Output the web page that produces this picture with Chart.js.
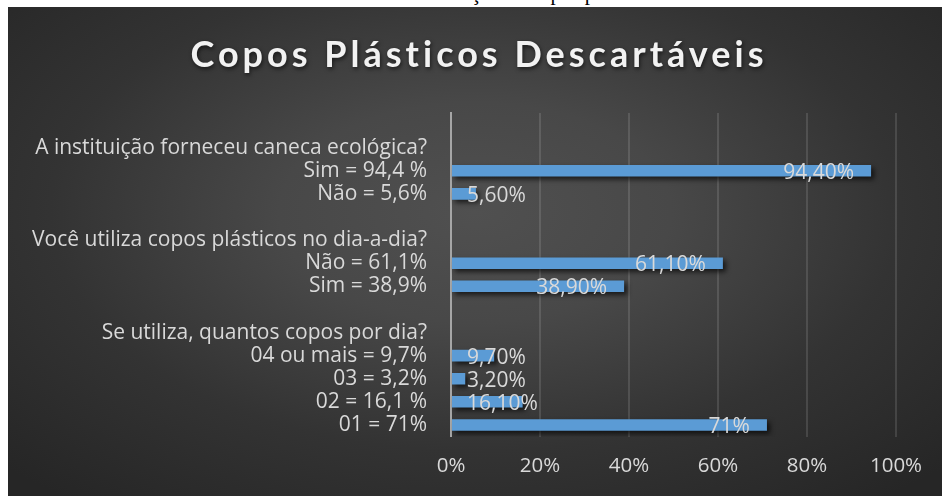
<!DOCTYPE html>
<html>
<head>
<meta charset="utf-8">
<script src="https://cdn.jsdelivr.net/npm/chart.js@4/dist/chart.umd.min.js"></script>
<style>
  body { margin: 0; background: #fff; width: 942px; height: 496px; overflow: hidden; position: relative; }
  #caption {
    position: absolute; left: 323px; top: -19px;
    font: 21px "Liberation Serif", serif; color: #000; white-space: nowrap;
  }
  #box {
    position: absolute; left: 8px; top: 7px; width: 934px; height: 489px;
    background: radial-gradient(ellipse 70% 75% at 50% 42%, #505050 0%, #484848 30%, #333 65%, #262626 100%);
  }
</style>
</head>
<body>
<div id="caption">Gráfico 4: Utilização de copos plásticos</div>
<div id="box"><canvas id="myChart" width="934" height="489"></canvas></div>
<script>
const chartTitle = "Copos Plásticos Descartáveis";

// linhas do gráfico, de cima para baixo (as perguntas não têm barra)
const categories = [
  "",
  "A instituição forneceu caneca ecológica?",
  "Sim = 94,4 %",
  "Não = 5,6%",
  "",
  "Você utiliza copos plásticos no dia-a-dia?",
  "Não = 61,1%",
  "Sim = 38,9%",
  "",
  "Se utiliza, quantos copos por dia?",
  "04 ou mais = 9,7%",
  "03 = 3,2%",
  "02 = 16,1 %",
  "01 = 71%",
];

const values = [null, null, 94.4, 5.6, null, null, 61.1, 38.9, null, null, 9.7, 3.2, 16.1, 71];

const xTicks = [0, 20, 40, 60, 80, 100];

const textColor = "#d9d9d9";
const labelFont = '21px "Open Sans"';

function fmtPct(v) {
  if (Number.isInteger(v)) return v + "%";
  return v.toFixed(2).replace(".", ",") + "%";
}

const barExtras = {
  id: "barExtras",
  beforeDatasetsDraw(chart) {
    const ctx = chart.ctx;
    ctx.save();
    ctx.shadowColor = "rgba(0,0,0,0.65)";
    ctx.shadowBlur = 5;
    ctx.shadowOffsetX = 3;
    ctx.shadowOffsetY = 3;
  },
  afterDatasetsDraw(chart) {
    const ctx = chart.ctx;
    ctx.restore();
    const meta = chart.getDatasetMeta(0);
    const left = chart.chartArea.left;
    ctx.save();
    ctx.font = labelFont;
    ctx.fillStyle = textColor;
    ctx.textAlign = "left";
    ctx.textBaseline = "middle";
    meta.data.forEach((bar, i) => {
      const v = values[i];
      if (v === null) return;
      const txt = fmtPct(v);
      const w = ctx.measureText(txt).width;
      const x = Math.max(bar.x - 17 - w, left + 16);
      ctx.fillText(txt, x, bar.y + 2);
    });
    ctx.restore();
  },
  afterDraw(chart) {
    const ctx = chart.ctx;
    ctx.save();
    ctx.font = "bold 36px Lato";
    ctx.letterSpacing = "4px";
    ctx.textAlign = "center";
    ctx.textBaseline = "alphabetic";
    ctx.shadowColor = "rgba(0,0,0,0.6)";
    ctx.shadowBlur = 4;
    ctx.shadowOffsetX = 1;
    ctx.shadowOffsetY = 2;
    ctx.fillStyle = "#f2f2f2";
    ctx.fillText(chartTitle, chart.width / 2 + 4, 60);
    ctx.restore();
  },
};

const data = {
  labels: categories,
  datasets: [
    {
      data: values,
      backgroundColor: "#5b9bd5",
      categoryPercentage: 1,
      barPercentage: 0.5,
    },
  ],
};

const config = {
  type: "bar",
  data: data,
  plugins: [barExtras],
  options: {
    indexAxis: "y",
    responsive: false,
    animation: false,
    layout: { padding: { top: 106, right: 46, left: 0, bottom: 0 } },
    plugins: {
      legend: { display: false },
      tooltip: { enabled: false },
    },
    scales: {
      x: {
        min: 0,
        max: 100,
        afterBuildTicks(scale) {
          scale.ticks = xTicks.map((v) => ({ value: v }));
        },
        afterFit(scale) {
          scale.height = 59.5;
        },
        ticks: {
          color: textColor,
          font: { family: "Open Sans", size: 20.5 },
          padding: 17,
          callback: (v) => v + "%",
        },
        grid: { color: "rgba(255,255,255,0.12)", lineWidth: 2, drawTicks: false },
        border: { display: false },
      },
      y: {
        afterFit(scale) {
          scale.width = 443;
        },
        ticks: {
          color: textColor,
          font: { family: "Open Sans", size: 21 },
          padding: 24,
          autoSkip: false,
        },
        grid: { display: false, drawTicks: false },
        border: { display: true, color: "#a6a6a6", width: 2 },
      },
    },
  },
};

const myChart = new Chart(document.getElementById("myChart"), config);
</script>
</body>
</html>
